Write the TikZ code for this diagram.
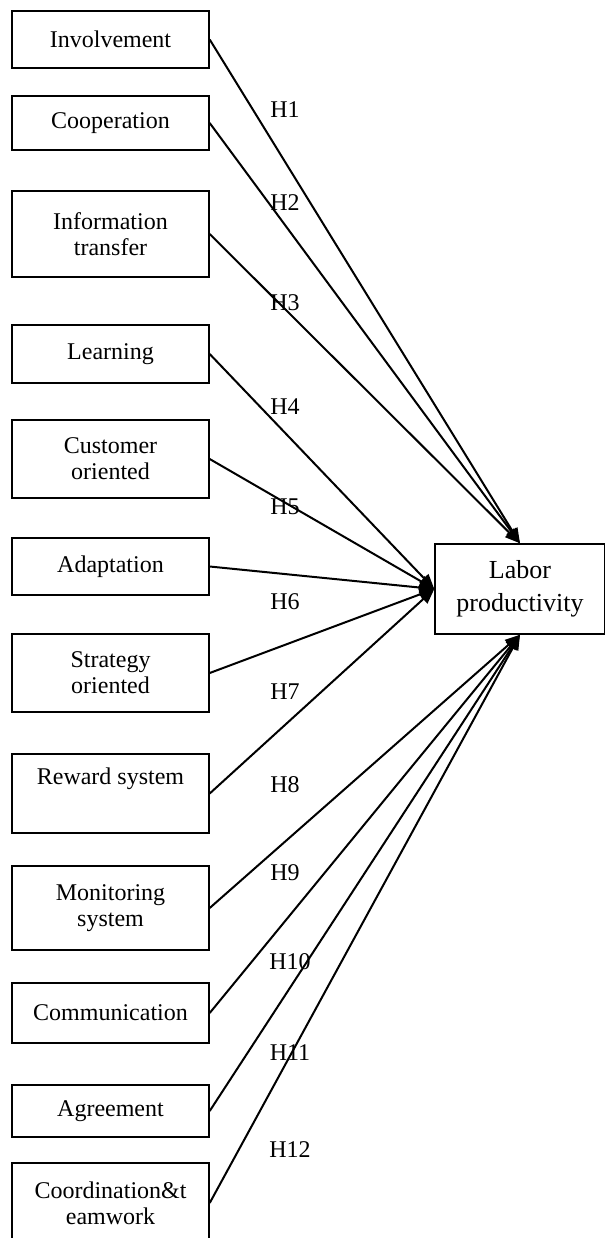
\documentclass[tikz,border=0pt]{standalone}
\usepackage{fontspec}
\setmainfont{Liberation Serif}
\usetikzlibrary{arrows.meta}
\tikzset{
  factor/.style={draw, line width=0.7pt, minimum width=98.5pt, inner sep=0pt, align=center, font=\fontsize{12}{13}\selectfont},
  target/.style={draw, line width=0.7pt, minimum width=85pt, minimum height=45pt, inner sep=0pt, align=center, font=\fontsize{13}{16.5}\selectfont},
  hyp/.style={font=\fontsize{12}{13}\selectfont, inner sep=0pt},
  link/.style={line width=1pt, -{Triangle[length=7.5pt,width=6pt]}}
}
\begin{document}
\begin{tikzpicture}[x=0.5pt,y=-0.5pt]
\useasboundingbox (0,0) rectangle (605,1238);
\clip (0,0) rectangle (605,1238);
\node[factor, minimum height=28.5pt] (f1) at (110.5,39.5) {Involvement};
\node[factor, minimum height=27pt] (f2) at (110.5,123) {Cooperation};
\node[factor, minimum height=43pt] (f3) at (110.5,234) {Information\\transfer};
\node[factor, minimum height=29pt] (f4) at (110.5,354) {Learning};
\node[factor, minimum height=39pt] (f5) at (110.5,459) {Customer\\oriented};
\node[factor, minimum height=28.5pt] (f6) at (110.5,566.5) {Adaptation};
\node[factor, minimum height=39pt] (f7) at (110.5,673) {Strategy\\oriented};
\node[factor, minimum height=39.5pt] (f8) at (110.5,793.5) {Reward system\\\strut};
\node[factor, minimum height=42pt] (f9) at (110.5,908) {Monitoring\\system};
\node[factor, minimum height=30pt] (f10) at (110.5,1013) {Communication};
\node[factor, minimum height=26pt] (f11) at (110.5,1111) {Agreement};
\node[factor, minimum height=40pt] (f12) at (110.5,1203) {Coordination\&t\\eamwork};
\node[target] (lp) at (520,589) {Labor\\productivity};
\foreach \i in {1,2,3} \draw[link] (f\i.east) -- (lp.north);
\foreach \i in {4,5,6,7,8} \draw[link] (f\i.east) -- (lp.west);
\foreach \i in {9,10,11,12} \draw[link] (f\i.east) -- (lp.south);
\node[hyp] (h1) at (285,110) {H1};
\node[hyp] (h2) at (285,203) {H2};
\node[hyp] (h3) at (285,303) {H3};
\node[hyp] (h4) at (285,407) {H4};
\node[hyp] (h5) at (285,507) {H5};
\node[hyp] (h6) at (285,602) {H6};
\node[hyp] (h7) at (285,692) {H7};
\node[hyp] (h8) at (285,785) {H8};
\node[hyp] (h9) at (285,873) {H9};
\node[hyp] (h10) at (290,962) {H10};
\node[hyp] (h11) at (290,1053) {H11};
\node[hyp] (h12) at (290,1150) {H12};
\end{tikzpicture}
\end{document}
